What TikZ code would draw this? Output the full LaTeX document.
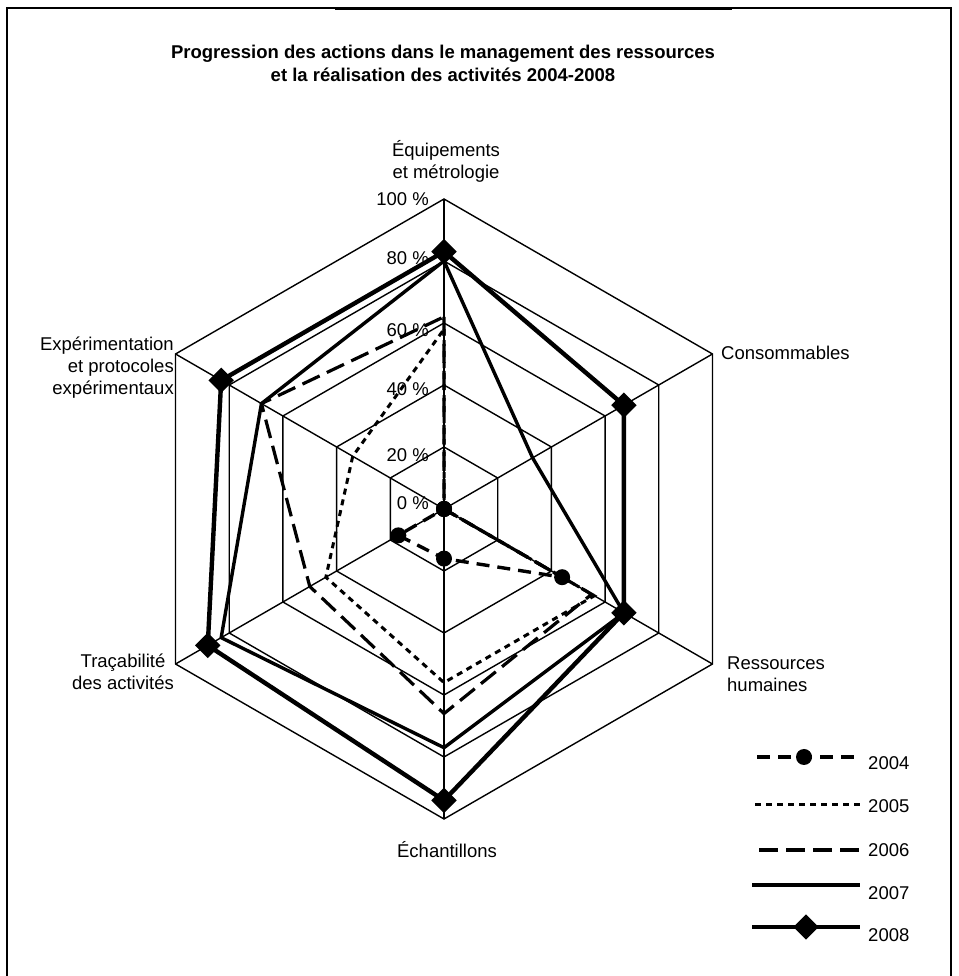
\documentclass[tikz,border=0pt]{standalone}
\usepackage{fontspec}
\setmainfont{Liberation Sans}
\tikzset{
  grid/.style={line width=1.4pt, black},
  frame/.style={line width=1.8pt, black},
  s2004/.style={line width=3.4pt, dash pattern=on 13pt off 8pt},
  s2005/.style={line width=3pt, dash pattern=on 6pt off 5pt},
  s2006/.style={line width=3.2pt, dash pattern=on 19pt off 8pt},
  s2007/.style={line width=3.4pt},
  s2008/.style={line width=4.4pt},
  dotmark/.style={circle, fill=black, inner sep=0pt, minimum size=16pt},
  diamark/.style={rectangle, rotate=45, fill=black, inner sep=0pt, minimum size=18pt},
  lbl/.style={font=\fontsize{18.5}{22}\selectfont, inner sep=0pt},
  ttl/.style={font=\fontsize{18.5}{23}\selectfont\bfseries, inner sep=0pt, align=center},
}
\begin{document}
\begin{tikzpicture}[x=1pt,y=1pt]
\useasboundingbox (0,0) rectangle (958,976);

% outer frame (bottom edge lies below the page)
\coordinate (fbl) at (7,-5);
\coordinate (ftl) at (7,968);
\coordinate (ftr) at (951,968);
\coordinate (fbr) at (951,-5);
\draw[frame] (fbl) -- (ftl) -- (ftr) -- (fbr);
\coordinate (fta) at (335,967.5);
\coordinate (ftb) at (732,967.5);
\draw[line width=3pt] (fta) -- (ftb);

% title
\node[ttl] (title) at (443,913) {Progression des actions dans le management des ressources\\et la réalisation des activités 2004-2008};

% axis titles
\node[lbl, align=center] (equip) at (446,815) {Équipements\\et métrologie};
\node[lbl, anchor=west] (cons) at (721,623) {Consommables};
\node[lbl, anchor=west, align=left] (rh) at (727,302) {Ressources\\humaines};
\node[lbl] (ech) at (447,126) {Échantillons};
\node[lbl, align=center] (trac) at (123,304) {Traçabilité\\des activités};
\node[lbl, anchor=east, align=right] (expe) at (174,608) {Expérimentation\\et protocoles\\expérimentaux};

\begin{scope}[shift={(444,467)}]
  \coordinate (O) at (0,0);
  % hexagonal grid rings (20 % steps) and spokes
  \foreach \k in {1,...,5} {
    \foreach \i in {0,...,5} \coordinate (g\k-\i) at ({90-60*\i}:{62*\k});
    \draw[grid] (g\k-0) -- (g\k-1) -- (g\k-2) -- (g\k-3) -- (g\k-4) -- (g\k-5) -- cycle;
  }
  \foreach \i in {0,...,5} \draw[grid] (O) -- (g5-\i);

  % scale labels
  \foreach \t/\yy [count=\n] in {0/6, 20/54, 40/120, 60/179, 80/251, 100/310}
    \node[lbl, anchor=east] (pct\n) at (-15,\yy) {\t~\%};

  % data points: equip, cons, rh, ech, trac, expe
  \foreach \i/\v in {0/0, 1/0, 2/44, 3/16, 4/17, 5/0}
    \coordinate (a-\i) at ({90-60*\i}:{3.1*\v});
  \foreach \i/\v in {0/58, 1/0, 2/56, 3/56, 4/44, 5/34}
    \coordinate (b-\i) at ({90-60*\i}:{3.1*\v});
  \foreach \i/\v in {0/62, 1/0, 2/55, 3/66, 4/50, 5/68}
    \coordinate (c-\i) at ({90-60*\i}:{3.1*\v});
  \foreach \i/\v in {0/80, 1/33, 2/67, 3/77, 4/83, 5/68}
    \coordinate (d-\i) at ({90-60*\i}:{3.1*\v});
  \foreach \i/\v in {0/83, 1/67, 2/67, 3/94, 4/88, 5/83}
    \coordinate (e-\i) at ({90-60*\i}:{3.1*\v});

  \draw[s2004] (a-0) -- (a-1) -- (a-2) -- (a-3) -- (a-4) -- (a-5) -- cycle;
  \draw[s2005] (b-0) -- (b-1) -- (b-2) -- (b-3) -- (b-4) -- (b-5) -- cycle;
  \draw[s2006] (c-0) -- (c-1) -- (c-2) -- (c-3) -- (c-4) -- (c-5) -- cycle;
  \draw[s2007] (d-0) -- (d-1) -- (d-2) -- (d-3) -- (d-4) -- (d-5) -- cycle;
  \draw[s2008] (e-0) -- (e-1) -- (e-2) -- (e-3) -- (e-4) -- (e-5) -- cycle;

  \foreach \i in {0,...,5} \node[dotmark] (ma-\i) at (a-\i) {};
  \foreach \i in {0,...,5} \node[diamark] (me-\i) at (e-\i) {};
\end{scope}

% legend
\coordinate (l1a) at (757,219); \coordinate (l1b) at (859,219);
\coordinate (l2a) at (755,171); \coordinate (l2b) at (862,171);
\coordinate (l3a) at (759,126); \coordinate (l3b) at (860,126);
\coordinate (l4a) at (752,91);  \coordinate (l4b) at (860,91);
\coordinate (l5a) at (752,49);  \coordinate (l5b) at (860,49);
\draw[s2004] (l1a) -- (l1b);
\node[dotmark] (k1) at (804,219) {};
\draw[s2005] (l2a) -- (l2b);
\draw[s2006] (l3a) -- (l3b);
\draw[s2007] (l4a) -- (l4b);
\draw[s2008] (l5a) -- (l5b);
\node[diamark] (k5) at (806,49) {};
\node[lbl, anchor=west] (y1) at (868,213) {2004};
\node[lbl, anchor=west] (y2) at (868,170) {2005};
\node[lbl, anchor=west] (y3) at (868,126) {2006};
\node[lbl, anchor=west] (y4) at (868,83) {2007};
\node[lbl, anchor=west] (y5) at (868,41) {2008};
\end{tikzpicture}
\end{document}
